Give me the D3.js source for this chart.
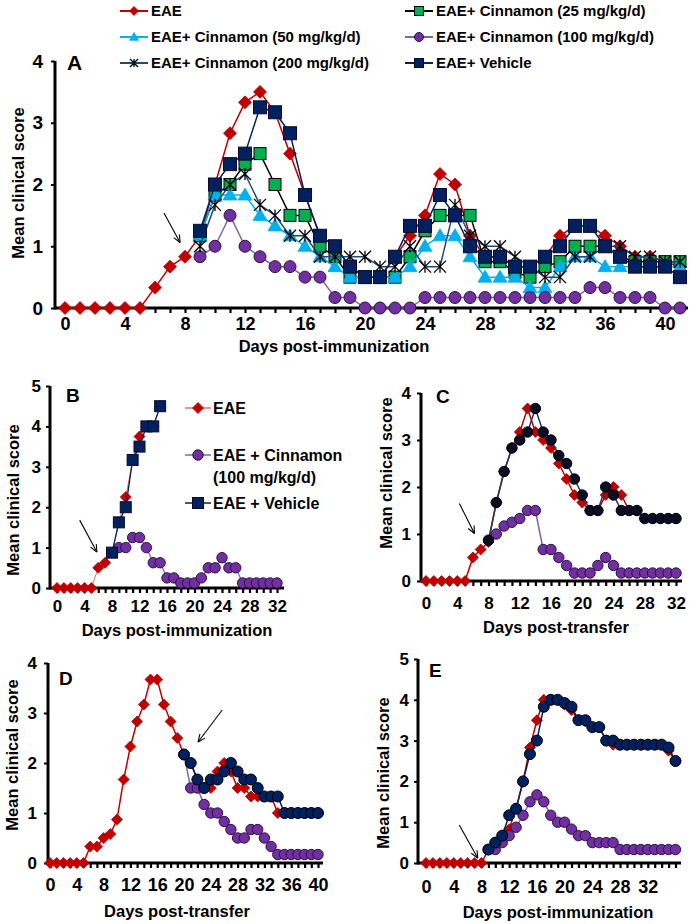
<!DOCTYPE html>
<html>
<head>
<meta charset="utf-8">
<script src="https://cdn.jsdelivr.net/npm/d3@7"></script>
<style>
  body { margin: 0; background: #fff; }
  text { font-family: "Liberation Sans", Arial, sans-serif; font-weight: bold; fill: #000; }
</style>
</head>
<body>
<div id="chart"></div>
<script>
// ---------- panel A ----------
const daysA = [0,1,2,3,4,5,6,7,8,9,10,11,12,13,14,15,16,17,18,19,20,21,22,23,24,25,26,27,28,29,30,31,32,33,34,35,36,37,38,39,40,41];
const txDaysA = [9,10,11,12,13,14,15,16,17,18,19,20,21,22,23,24,25,26,27,28,29,30,31,32,33,34,35,36,37,38,39,40,41];
const eaeA = [0,0,0,0,0,0,0.33,0.67,0.83,1.17,2.0,2.83,3.33,3.5,3.17,2.5,1.83,1.17,1.0,0.67,0.5,0.5,0.83,1.17,1.5,2.17,2.0,1.17,0.83,0.83,0.67,0.67,0.83,1.17,1.33,1.33,1.17,1.0,0.83,0.83,0.75,0.67];
const cin25A = [1.17,1.83,2.0,2.33,2.5,2.0,1.5,1.5,1.0,0.83,0.5,0.5,0.5,0.5,0.83,1.25,1.5,1.5,1.5,0.75,0.75,0.58,0.5,0.67,0.75,1.0,1.0,1.0,0.83,0.75,0.75,0.75,0.75];
const cin50A = [1.17,1.83,1.83,1.83,1.5,1.33,1.17,1.0,0.83,0.67,0.5,0.5,0.5,0.5,0.67,1.0,1.17,1.17,0.83,0.5,0.5,0.5,0.33,0.33,0.67,0.83,0.83,0.67,0.67,0.67,0.67,0.67,0.67];
const cin100A = [0.83,1.0,1.5,1.0,0.83,0.67,0.67,0.5,0.5,0.17,0.17,0,0,0,0,0.17,0.17,0.17,0.17,0.17,0.17,0.17,0.17,0.17,0.17,0.17,0.33,0.33,0.17,0.17,0.17,0,0];
const cin200A = [1.0,1.67,2.0,2.17,1.67,1.5,1.17,1.17,0.83,0.83,0.83,0.83,0.67,0.67,1.0,0.67,0.67,1.67,1.17,1.0,1.0,0.83,0.67,0.5,0.5,0.83,0.83,1.0,1.0,0.83,0.83,0.75,0.75];
const vehA = [1.25,2.0,2.33,2.5,3.25,3.17,2.83,1.83,1.17,1.0,0.67,0.5,0.5,0.83,1.33,1.33,1.83,1.5,1.0,0.83,0.83,0.67,0.67,0.83,1.0,1.33,1.33,1.0,0.83,0.67,0.67,0.67,0.5];
const ticksLabelA = [0,4,8,12,16,20,24,28,32,36,40];
const yTicksA = [0,1,2,3,4];
const arrowA = [[6.6,1.54],[7.67,1.06]];

// ---------- panel B ----------
const daysB = [0,1,2,3,4,5,6,7,8,9,10,11,12,13,14,15,16,17,18,19,20,21,22,23,24,25,26,27,28,29,30,31,32];
const eaeDaysB = [0,1,2,3,4,5,6,7,8,9,10,11,12,13,14,15];
const vehDaysB = [8,9,10,11,12,13,14,15];
const cinDaysB = [9,10,11,12,13,14,15,16,17,18,19,20,21,22,23,24,25,26,27,28,29,30,31,32];
const eaeB = [0,0,0,0,0,0,0.5,0.625,0.875,1.625,2.25,3.17,3.75,4.0,4.0,4.5];
const vehB = [0.875,1.625,2.0,3.17,3.5,4.0,4.0,4.5];
const cinB = [1.0,1.0,1.25,1.25,1.0,0.625,0.625,0.25,0.25,0.125,0.125,0.125,0.25,0.5,0.5,0.75,0.5,0.5,0.125,0.125,0.125,0.125,0.125,0.125];
const yTicksB = [0,1,2,3,4,5];
const arrowB = [[3.3,1.68],[5.8,0.89]];

// ---------- panel C ----------
const daysC = [0,1,2,3,4,5,6,7,8,9,10,11,12,13,14,15,16,17,18,19,20,21,22,23,24,25,26,27,28,29,30,31,32];
const vehDaysC = [8,9,10,11,12,13,14,15,16,17,18,19,20,21,22,23,24,25,26,27,28,29,30,31,32];
const cinDaysC = [9,10,11,12,13,14,15,16,17,18,19,20,21,22,23,24,25,26,27,28,29,30,31,32];
const eaeC = [0,0,0,0,0,0,0.5,0.67,0.83,1.67,2.33,2.83,3.17,3.67,3.17,3.0,2.83,2.5,2.17,1.83,1.67,1.5,1.5,1.83,2.0,1.83,1.5,1.5,1.33,1.33,1.33,1.33,1.33];
const vehC = [0.87,1.67,2.33,2.83,3.0,3.17,3.67,3.17,3.0,2.67,2.5,2.17,1.83,1.5,1.5,2.0,1.83,1.5,1.5,1.5,1.33,1.33,1.33,1.33,1.33];
const cinC = [1.0,1.17,1.25,1.33,1.5,1.5,0.67,0.67,0.5,0.33,0.17,0.17,0.17,0.33,0.5,0.33,0.17,0.17,0.17,0.17,0.17,0.17,0.17,0.17];
const yTicksC = [0,1,2,3,4];
const arrowC = [[4.27,1.65],[6.2,1.01]];

// ---------- panel D ----------
const daysD = [0,1,2,3,4,5,6,7,8,9,10,11,12,13,14,15,16,17,18,19,20,21,22,23,24,25,26,27,28,29,30,31,32,33,34,35,36,37,38,39,40];
const txDaysD = [20,21,22,23,24,25,26,27,28,29,30,31,32,33,34,35,36,37,38,39,40];
const eaeD = [0,0,0,0,0,0,0.33,0.33,0.5,0.58,0.87,1.67,2.33,2.83,3.17,3.67,3.67,3.17,2.83,2.5,2.17,2.0,1.67,1.5,1.5,1.83,2.0,1.83,1.5,1.5,1.33,1.33,1.33,1.33,1.0,1.0,1.0,1.0,1.0,1.0,1.0];
const vehD = [2.17,2.0,1.67,1.5,1.67,1.67,1.83,2.0,1.83,1.67,1.67,1.5,1.33,1.33,1.33,1.0,1.0,1.0,1.0,1.0,1.0];
const cinD = [2.17,1.5,1.5,1.17,1.0,1.0,0.83,0.67,0.5,0.5,0.67,0.67,0.5,0.33,0.17,0.17,0.17,0.17,0.17,0.17,0.17];
const yTicksD = [0,1,2,3,4];
const arrowD = [[25.7,3.06],[22.1,2.42]];

// ---------- panel E ----------
const daysE = [0,1,2,3,4,5,6,7,8,9,10,11,12,13,14,15,16,17,18,19,20,21,22,23,24,25,26,27,28,29,30,31,32,33,34,35,36];
const txDaysE = [9,10,11,12,13,14,15,16,17,18,19,20,21,22,23,24,25,26,27,28,29,30,31,32,33,34,35,36];
const eaeE = [0,0,0,0,0,0,0,0,0,0.33,0.5,0.67,0.83,1.33,2.0,2.83,3.5,4.0,4.0,4.0,3.88,3.75,3.5,3.47,3.33,3.33,3.0,2.9,2.9,2.9,2.9,2.9,2.9,2.9,2.9,2.75,2.5];
const vehE = [0.33,0.5,0.67,1.17,1.33,2.0,2.67,3.0,3.83,4.0,4.0,3.92,3.83,3.5,3.5,3.33,3.33,3.0,3.0,2.9,2.9,2.9,2.9,2.9,2.9,2.9,2.83,2.5];
const cinE = [0.33,0.33,0.5,0.67,0.875,1.17,1.5,1.67,1.5,1.17,1.0,1.0,0.83,0.67,0.67,0.5,0.5,0.5,0.5,0.33,0.33,0.33,0.33,0.33,0.33,0.33,0.33,0.33];
const yTicksE = [0,1,2,3,4,5];
const arrowE = [[4.8,0.93],[7.46,0.12]];

const ticksLabel32 = [0,4,8,12,16,20,24,28,32];
const ticksLabel40 = [0,4,8,12,16,20,24,28,32,36,40];

// ---------- styles ----------
const RED = '#c00000', NAVY = '#002060', PURPLE = '#7030a0';
const sty = {
  eae:   { shape: 'diamond', r: 6.5, fill: RED, stroke: RED, line: RED, lw: 1.5 },
  c25:   { shape: 'square', r: 6, fill: '#00b050', stroke: '#000', line: '#000', lw: 1.5 },
  c50:   { shape: 'triangle', r: 7, fill: '#00b0f0', stroke: '#00b0f0', line: '#00b0f0', lw: 1.5 },
  c100:  { shape: 'circle', r: 6, fill: PURPLE, stroke: '#2d0f4a', line: '#8064a2', lw: 1.5 },
  c200:  { shape: 'star', r: 6, fill: 'none', stroke: '#000', line: '#1f497d', lw: 1.5 },
  veh:   { shape: 'square', r: 6.5, fill: NAVY, stroke: '#0a0a2a', line: NAVY, lw: 1.5 }
};
const styB = {
  eae: { shape: 'diamond', r: 5.5, fill: RED, stroke: RED, line: '#e87070', lw: 1 },
  cin: { shape: 'circle', r: 5.2, fill: PURPLE, stroke: '#2d0f4a', line: '#8064a2', lw: 1.3 },
  veh: { shape: 'square', r: 5.5, fill: NAVY, stroke: '#0a0a2a', line: NAVY, lw: 1.3 }
};
const styS = {
  eae: { shape: 'diamond', r: 5.5, fill: RED, stroke: RED, line: RED, lw: 1.5 },
  cin: { shape: 'circle', r: 5.2, fill: PURPLE, stroke: '#2d0f4a', line: '#8064a2', lw: 1.5 },
  vehC: { shape: 'circle', r: 5.2, fill: '#0b0d24', stroke: '#000', line: '#1f3864', lw: 1.5 },
  veh: { shape: 'circle', r: 5.5, fill: NAVY, stroke: '#000', line: NAVY, lw: 1.5 }
};

const svg = d3.select('#chart').append('svg').attr('width', 692).attr('height', 924);

function marker(sel, s, r) {
  r = r || s.r;
  if (s.shape === 'diamond') {
    sel.append('path').attr('d', `M0,${-r}L${r},0L0,${r}L${-r},0Z`)
      .attr('fill', s.fill).attr('stroke', s.stroke).attr('stroke-width', 0.8);
  } else if (s.shape === 'square') {
    sel.append('rect').attr('x', -r).attr('y', -r).attr('width', 2 * r).attr('height', 2 * r)
      .attr('fill', s.fill).attr('stroke', s.stroke).attr('stroke-width', 1);
  } else if (s.shape === 'circle') {
    sel.append('circle').attr('r', r).attr('fill', s.fill).attr('stroke', s.stroke).attr('stroke-width', 1);
  } else if (s.shape === 'triangle') {
    sel.append('path').attr('d', `M0,${-r}L${r},${r * 0.72}L${-r},${r * 0.72}Z`)
      .attr('fill', s.fill).attr('stroke', s.stroke).attr('stroke-width', 0.8);
  } else if (s.shape === 'star') {
    sel.append('path').attr('d', `M${-r},${-r}L${r},${r}M${-r},${r}L${r},${-r}M0,${-r}L0,${r}`)
      .attr('fill', 'none').attr('stroke', s.stroke).attr('stroke-width', 1.3);
  }
}

function plotSeries(g, x, y, days, values, s) {
  const pts = values.map((v, i) => [days[i], v]);
  g.append('path').datum(pts)
    .attr('fill', 'none').attr('stroke', s.line).attr('stroke-width', s.lw)
    .attr('d', d3.line().x(d => x(d[0])).y(d => y(d[1])));
  g.selectAll(null).data(pts).enter().append('g')
    .attr('transform', d => `translate(${x(d[0])},${y(d[1])})`)
    .each(function () { marker(d3.select(this), s); });
}

function axes(p) {
  const g = svg.append('g');
  const y0 = p.y(0);
  // a tick for every day
  g.append('g').attr('transform', `translate(0,${y0})`)
    .call(d3.axisBottom(p.x).tickValues(p.days).tickSize(5).tickFormat(''))
    .call(a => a.select('.domain').remove())
    .selectAll('line').attr('stroke', '#000').attr('stroke-width', 2.2);
  g.append('g').attr('transform', `translate(0,${y0})`)
    .call(d3.axisBottom(p.x).tickValues(p.xLabels).tickSize(0).tickPadding(p.xPad))
    .call(a => a.select('.domain').remove())
    .selectAll('text').style('font-size', p.xFs + 'px');
  g.append('g').attr('transform', `translate(${p.ax0},0)`)
    .call(d3.axisLeft(p.y).tickValues(p.yTicks).tickSize(4).tickPadding(p.yPad).tickFormat(d3.format('d')))
    .call(a => a.select('.domain').remove())
    .call(a => a.selectAll('line').attr('stroke', '#000').attr('stroke-width', 2))
    .selectAll('text').style('font-size', p.yFs + 'px');
  g.append('line').attr('x1', p.ax0).attr('x2', p.ax1).attr('y1', y0).attr('y2', y0)
    .attr('stroke', '#000').attr('stroke-width', 3);
  g.append('line').attr('x1', p.ax0).attr('x2', p.ax0).attr('y1', y0 + 1.5).attr('y2', p.y(d3.max(p.yTicks)))
    .attr('stroke', '#000').attr('stroke-width', 3);
  // titles and panel letter
  g.append('text').attr('x', p.xt[0]).attr('y', p.xt[1]).attr('text-anchor', 'middle')
    .style('font-size', '16.5px').text(p.xTitle);
  g.append('text').attr('transform', `translate(${p.yt[0]},${p.yt[1]}) rotate(-90)`)
    .attr('text-anchor', 'middle').attr('dy', '0.35em').style('font-size', '16.5px').text('Mean clinical score');
  g.append('text').attr('x', p.letter[0]).attr('y', p.letter[1]).style('font-size', p.letterFs + 'px').text(p.name);
}

function arrow(x, y, pts) {
  const a = [x(pts[0][0]), y(pts[0][1])], b = [x(pts[1][0]), y(pts[1][1])];
  const ang = Math.atan2(b[1] - a[1], b[0] - a[0]);
  const g = svg.append('g').attr('stroke', '#000').attr('stroke-width', 1.1);
  g.append('line').attr('x1', a[0]).attr('y1', a[1]).attr('x2', b[0]).attr('y2', b[1]);
  [-0.42, 0.42].forEach(t => {
    g.append('line').attr('x1', b[0]).attr('y1', b[1])
      .attr('x2', b[0] - 8 * Math.cos(ang + t)).attr('y2', b[1] - 8 * Math.sin(ang + t));
  });
}

// ---------- panel A ----------
{
  const x = d3.scaleLinear().domain([0, 41]).range([65, 680]);
  const y = d3.scaleLinear().domain([0, 4]).range([308, 61]);
  axes({ x, y, days: daysA, xLabels: ticksLabelA, yTicks: yTicksA, ax0: 55, ax1: 688, xPad: 9, yPad: 8,
    xFs: 18, yFs: 19, xt: [334, 352], yt: [18, 183], xTitle: 'Days post-immunization',
    letter: [67, 70], letterFs: 21, name: 'A' });
  const g = svg.append('g');
  plotSeries(g, x, y, daysA, eaeA, sty.eae);
  plotSeries(g, x, y, txDaysA, cin25A, sty.c25);
  plotSeries(g, x, y, txDaysA, cin50A, sty.c50);
  plotSeries(g, x, y, txDaysA, cin100A, sty.c100);
  plotSeries(g, x, y, txDaysA, cin200A, sty.c200);
  plotSeries(g, x, y, txDaysA, vehA, sty.veh);
  arrow(x, y, arrowA);

  // legend
  const legendA = [
    ['EAE', sty.eae, 0, 0], ['EAE+ Cinnamon (25 mg/kg/d)', sty.c25, 1, 0],
    ['EAE+ Cinnamon (50 mg/kg/d)', sty.c50, 0, 1], ['EAE+ Cinnamon (100 mg/kg/d)', sty.c100, 1, 1],
    ['EAE+ Cinnamon (200 mg/kg/d)', sty.c200, 0, 2], ['EAE+ Vehicle', sty.veh, 1, 2]
  ];
  const colX = [120, 405], rowY = [11, 37, 63];
  legendA.forEach(([label, s, c, r]) => {
    const lg = svg.append('g').attr('transform', `translate(${colX[c]},${rowY[r]})`);
    lg.append('line').attr('x1', 0).attr('x2', 28).attr('stroke', s.line).attr('stroke-width', 2);
    const m = lg.append('g').attr('transform', 'translate(14,0)');
    marker(m, s, s.shape === 'star' ? 4 : 4.5);
    lg.append('text').attr('x', 31).attr('dy', '0.36em').style('font-size', '15px').text(label);
  });
}

// ---------- panel B ----------
{
  const x = d3.scaleLinear().domain([0, 32]).range([57, 277]);
  const y = d3.scaleLinear().domain([0, 5]).range([588, 386]);
  axes({ x, y, days: daysB, xLabels: ticksLabel32, yTicks: yTicksB, ax0: 50, ax1: 284, xPad: 12, yPad: 5,
    xFs: 17, yFs: 17, xt: [177, 636], yt: [13, 500], xTitle: 'Days post-immunization',
    letter: [66, 402], letterFs: 19, name: 'B' });
  const g = svg.append('g');
  plotSeries(g, x, y, eaeDaysB, eaeB, styB.eae);
  plotSeries(g, x, y, cinDaysB, cinB, styB.cin);
  plotSeries(g, x, y, vehDaysB, vehB, styB.veh);
  arrow(x, y, arrowB);

  const legendB = [
    [['EAE'], styB.eae, 408], [['EAE + Cinnamon', '(100 mg/kg/d)'], styB.cin, 455], [['EAE + Vehicle'], styB.veh, 503]
  ];
  legendB.forEach(([lines, s, ly]) => {
    const lg = svg.append('g').attr('transform', `translate(185,${ly})`);
    lg.append('line').attr('x1', 0).attr('x2', 26).attr('stroke', s.line).attr('stroke-width', 1.5);
    marker(lg.append('g').attr('transform', 'translate(13,0)'), s);
    lines.forEach((t, i) => lg.append('text').attr('x', 28).attr('y', i * 22).attr('dy', '0.36em')
      .style('font-size', '16px').text(t));
  });
}

// ---------- panel C ----------
{
  const x = d3.scaleLinear().domain([0, 32]).range([426, 676]);
  const y = d3.scaleLinear().domain([0, 4]).range([581, 393]);
  axes({ x, y, days: daysC, xLabels: ticksLabel32, yTicks: yTicksC, ax0: 421, ax1: 682, xPad: 16, yPad: 6,
    xFs: 17, yFs: 17, xt: [556, 633], yt: [386, 473], xTitle: 'Days post-transfer',
    letter: [436, 403], letterFs: 19, name: 'C' });
  const g = svg.append('g');
  plotSeries(g, x, y, cinDaysC, cinC, styS.cin);
  plotSeries(g, x, y, daysC, eaeC, styS.eae);
  plotSeries(g, x, y, vehDaysC, vehC, styS.vehC);
  arrow(x, y, arrowC);
}

// ---------- panel D ----------
{
  const x = d3.scaleLinear().domain([0, 40]).range([50, 318]);
  const y = d3.scaleLinear().domain([0, 4]).range([863, 663]);
  axes({ x, y, days: daysD, xLabels: ticksLabel40, yTicks: yTicksD, ax0: 48, ax1: 323, xPad: 15, yPad: 7,
    xFs: 18, yFs: 17, xt: [177, 917], yt: [12, 755], xTitle: 'Days post-transfer',
    letter: [59, 685], letterFs: 19, name: 'D' });
  const g = svg.append('g');
  plotSeries(g, x, y, daysD, eaeD, styS.eae);
  plotSeries(g, x, y, txDaysD, cinD, styS.cin);
  plotSeries(g, x, y, txDaysD, vehD, styS.veh);
  arrow(x, y, arrowD);
}

// ---------- panel E ----------
{
  const x = d3.scaleLinear().domain([0, 36]).range([426, 675.5]);
  const y = d3.scaleLinear().domain([0, 5]).range([863, 659]);
  axes({ x, y, days: daysE, xLabels: ticksLabel32, yTicks: yTicksE, ax0: 418, ax1: 681, xPad: 17, yPad: 5,
    xFs: 18, yFs: 17, xt: [558, 918], yt: [383, 773], xTitle: 'Days post-immunization',
    letter: [429, 677], letterFs: 19, name: 'E' });
  const g = svg.append('g');
  plotSeries(g, x, y, daysE, eaeE, styS.eae);
  plotSeries(g, x, y, txDaysE, cinE, styS.cin);
  plotSeries(g, x, y, txDaysE, vehE, styS.veh);
  arrow(x, y, arrowE);
}
</script>
</body>
</html>
